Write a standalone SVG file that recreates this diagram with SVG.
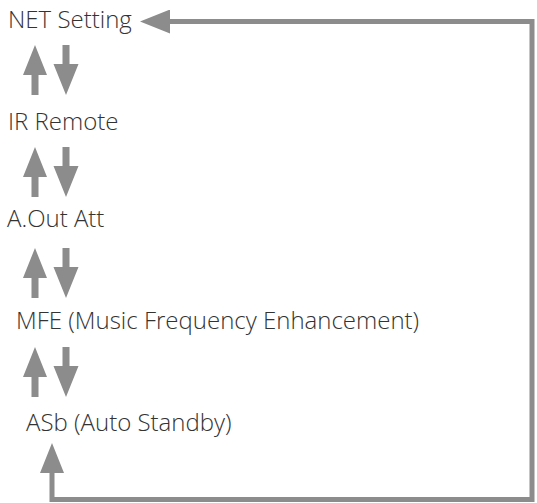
<svg xmlns="http://www.w3.org/2000/svg" width="537" height="503" viewBox="0 0 537 503">
<style>
.lbl{font-family:"Open Sans","Liberation Sans",sans-serif;font-size:24px;font-weight:300;fill:#333333}
.arr{fill:#8c8c8c}
.loop{fill:none;stroke:#8c8c8c;stroke-width:5}
</style>
<defs>
<path id="up" d="M0,0 L12,30 L3.5,30 L3.5,50 L-3.5,50 L-3.5,30 L-12,30 Z"/>
<path id="down" d="M-3.5,0 L3.5,0 L3.5,19 L12.5,19 L0,50 L-12.5,19 L-3.5,19 Z"/>
<marker id="head" viewBox="0 0 30 24" refX="15" refY="12" markerWidth="30" markerHeight="24" markerUnits="userSpaceOnUse" orient="auto-start-reverse">
<path d="M0,0 L30,12 L0,24 Z" fill="#8c8c8c"/>
</marker>
</defs>
<g id="node-net"><text class="lbl" x="8" y="28">NET Setting</text></g>
<g id="node-ir"><text class="lbl" x="8" y="130">IR Remote</text></g>
<g id="node-aout"><text class="lbl" x="7" y="227">A.Out Att</text></g>
<g id="node-mfe"><text class="lbl" x="16" y="329">MFE (Music Frequency Enhancement)</text></g>
<g id="node-asb"><text class="lbl" x="26" y="431">ASb (Auto Standby)</text></g>
<g id="connectors">
<use href="#up" class="arr" x="35" y="45"/>
<use href="#down" class="arr" x="66" y="45"/>
<use href="#up" class="arr" x="35" y="147"/>
<use href="#down" class="arr" x="66" y="147"/>
<use href="#up" class="arr" x="35" y="248"/>
<use href="#down" class="arr" x="66" y="248"/>
<use href="#up" class="arr" x="35" y="347"/>
<use href="#down" class="arr" x="66" y="347"/>
<path class="loop" d="M52,458 V499.5 H532 V21.5 H155" marker-start="url(#head)" marker-end="url(#head)"/>
</g>
</svg>
